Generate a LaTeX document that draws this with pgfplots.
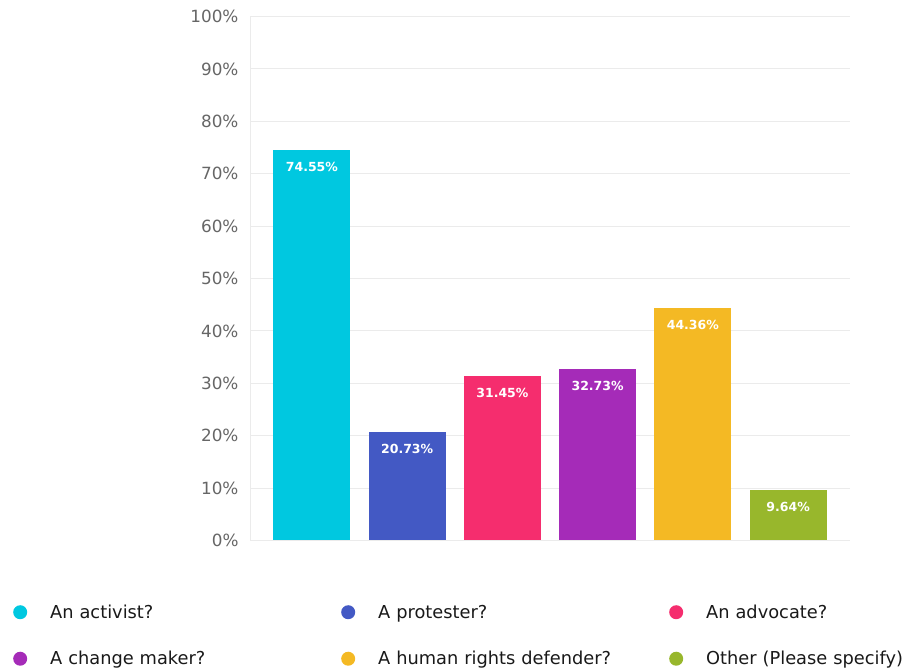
\documentclass[border=0pt]{standalone}
\usepackage{pgfplots}
\pgfplotsset{compat=1.18}
\usepackage{fontspec}
\setmainfont{DejaVu Sans}
\definecolor{cA}{RGB}{0,200,224}
\definecolor{cB}{RGB}{67,89,196}
\definecolor{cC}{RGB}{245,45,110}
\definecolor{cD}{RGB}{165,43,184}
\definecolor{cE}{RGB}{244,185,36}
\definecolor{cF}{RGB}{152,183,44}
\definecolor{gridc}{RGB}{235,235,235}
\begin{document}
\begin{tikzpicture}[x=1pt,y=1pt]
\useasboundingbox (0,0) rectangle (909,671);
\begin{axis}[
  at={(250pt,130.5pt)}, anchor=south west,
  scale only axis, width=600pt, height=524pt,
  xmin=-0.65, xmax=5.65, ymin=0, ymax=100,
  ybar, bar width=0.81, bar shift=0pt,
  xtick=\empty,
  ytick={0,10,...,100},
  yticklabel={\pgfmathprintnumber{\tick}\%},
  /pgf/number format/assume math mode=true,
  tick label style={font=\fontsize{16.8}{17}\selectfont, text=black!60},
  major tick length=0pt,
  yticklabel style={xshift=-8pt},
  ymajorgrids, grid style={draw=gridc, line width=0.8pt},
  axis x line*=bottom, axis y line*=left,
  axis line style={-, draw=gridc, line width=0.8pt},
  nodes near coords, point meta=explicit symbolic,
  nodes near coords align={below},
  every node near coord/.append style={font=\bfseries\fontsize{12.5}{13}\selectfont, text=white, yshift=-8.5pt},
  legend columns=3,
  legend cell align=left,
  legend image code/.code={\fill[#1, draw=none] (0pt,0pt) circle (7pt);},
  legend style={draw=none, fill=none, inner sep=0pt,
    at={(axis description cs:0,0)}, anchor=north west, xshift=-237pt, yshift=-62pt,
    font=\fontsize{17.8}{18}\selectfont, text=black!90,
    nodes={inner sep=2pt, text width=289pt, align=left},
    row sep=27.5pt,
    /tikz/every odd column/.append style={column sep=21pt},
    /tikz/every even column/.append style={column sep=0pt}},
]
\addplot[fill=cA, draw=none] coordinates {(0,74.55) [74.55\%]};
\addlegendentry{An activist?}
\addplot[fill=cB, draw=none] coordinates {(1,20.73) [20.73\%]};
\addlegendentry{A protester?}
\addplot[fill=cC, draw=none] coordinates {(2,31.45) [31.45\%]};
\addlegendentry{An advocate?}
\addplot[fill=cD, draw=none] coordinates {(3,32.73) [32.73\%]};
\addlegendentry{A change maker?}
\addplot[fill=cE, draw=none] coordinates {(4,44.36) [44.36\%]};
\addlegendentry{A human rights defender?}
\addplot[fill=cF, draw=none] coordinates {(5,9.64) [9.64\%]};
\addlegendentry{Other (Please specify)}
\end{axis}
\end{tikzpicture}
\end{document}
